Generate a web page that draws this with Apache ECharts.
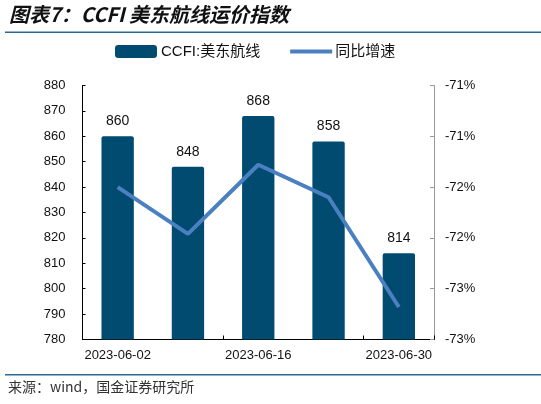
<!DOCTYPE html>
<html>
<head>
<meta charset="utf-8">
<script src="https://cdn.jsdelivr.net/npm/echarts@6/dist/echarts.min.js"></script>
<style>
html,body{margin:0;padding:0;background:#fff;}
#c{width:541px;height:404px;}
</style>
</head>
<body>
<div id="c"></div>
<script>
const categories = ['2023-06-02', '2023-06-09', '2023-06-16', '2023-06-23', '2023-06-30'];
const ccfiValues = [860, 848, 868, 858, 814];
const yoyValues = [-72.0, -72.46, -71.78, -72.10, -73.18];
const seriesNames = ['CCFI:美东航线', '同比增速'];
const titleText = '图表7：CCFI 美东航线运价指数';
const sourceText = '来源：wind，国金证券研究所';

const chart = echarts.init(document.getElementById('c'));
const font = '"Liberation Sans", Arial, "Noto Sans CJK SC", sans-serif';
chart.setOption({
  animation: false,
  backgroundColor: '#fff',
  textStyle: { fontFamily: font },
  graphic: [
    { type: 'text', left: 9, top: 4, style: { text: titleText, font: 'italic bold 20px "Noto Sans CJK SC", sans-serif', fill: '#111' } },
    { type: 'rect', shape: { x: 5, y: 31.5, width: 536, height: 1.5 }, style: { fill: '#2a6a8f' } },
    { type: 'rect', shape: { x: 5, y: 374, width: 536, height: 1.5 }, style: { fill: '#2a6a8f' } },
    { type: 'text', left: 8, top: 380, style: { text: sourceText, font: '14px "Noto Sans CJK SC", sans-serif', fill: '#333' } }
  ],
  legend: {
    top: 39,
    left: 110,
    itemGap: 30,
    itemWidth: 42,
    itemHeight: 13,
    symbolKeepAspect: true,
    textStyle: { fontSize: 15, color: '#111', fontFamily: font },
    data: [
      { name: seriesNames[0], icon: 'roundRect', textStyle: { padding: [0, 0, 0, -1] } },
      { name: seriesNames[1], icon: 'path://M0,0h40v4h-40z', textStyle: { padding: [0, 0, 0, -2] } }
    ]
  },
  grid: { left: 82.5, right: 107, top: 85.5, bottom: 64.5, containLabel: false },
  xAxis: {
    type: 'category',
    data: categories,
    axisLine: { lineStyle: { color: '#000', width: 1 } },
    axisTick: { show: true, inside: true, length: 4, lineStyle: { color: '#000' } },
    axisLabel: { interval: 1, color: '#111', fontSize: 13, margin: 9, fontFamily: font }
  },
  yAxis: [
    {
      type: 'value', min: 780, max: 880, interval: 10,
      axisLine: { show: true, lineStyle: { color: '#000' } },
      axisTick: { show: true, inside: true, length: 3, lineStyle: { color: '#000' } },
      splitLine: { show: false },
      axisLabel: { color: '#111', fontSize: 13, margin: 17, fontFamily: font }
    },
    {
      type: 'value', min: -73.5, max: -71, interval: 0.5,
      position: 'right',
      axisLine: { show: true, lineStyle: { color: '#999' } },
      axisTick: { show: true, inside: true, length: 4, lineStyle: { color: '#999' } },
      splitLine: { show: false },
      axisLabel: { color: '#111', fontSize: 13, margin: 11, fontFamily: font,
        formatter: v => Math.round(v) + '%' }
    }
  ],
  series: [
    {
      name: seriesNames[0], type: 'bar', data: ccfiValues, barWidth: '46%',
      itemStyle: { color: '#004b6f', borderRadius: [2, 2, 0, 0] },
      label: { show: true, position: 'top', distance: 8, fontSize: 14, color: '#111', fontFamily: font }
    },
    {
      name: seriesNames[1], type: 'line', yAxisIndex: 1, data: yoyValues,
      symbol: 'none', showSymbol: false,
      lineStyle: { color: '#4a80c0', width: 4 },
      itemStyle: { color: '#4a80c0' }
    }
  ]
});
</script>
</body>
</html>
